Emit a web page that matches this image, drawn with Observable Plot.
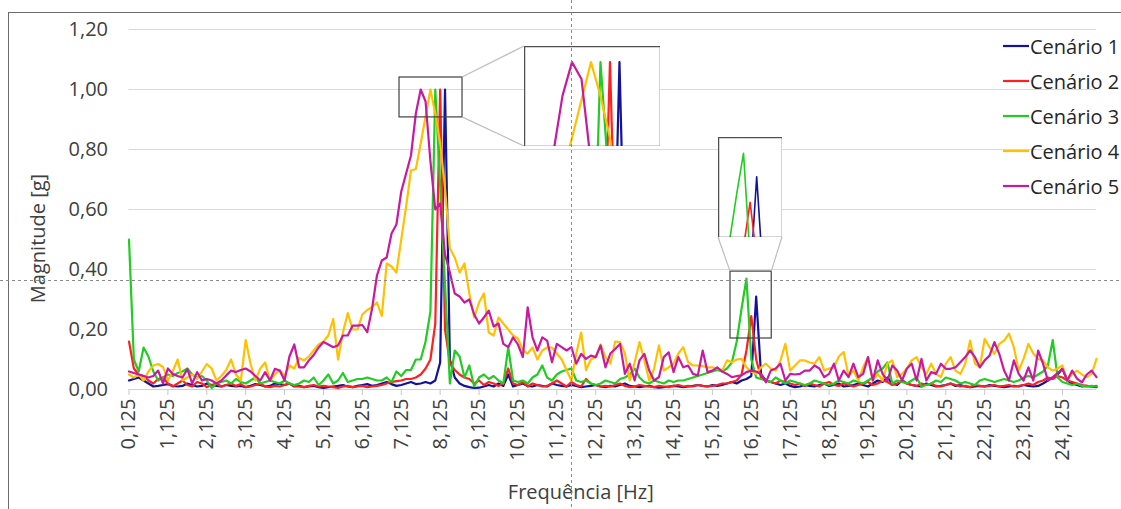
<!DOCTYPE html>
<html><head><meta charset="utf-8">
<script src="https://cdn.jsdelivr.net/npm/d3@7"></script>
<script src="https://cdn.jsdelivr.net/npm/@observablehq/plot@0.6"></script>
<style>
body{margin:0;background:#fff;}
#wrap{position:relative;width:1121px;height:509px;overflow:hidden;font-family:"Open Sans",sans-serif;background:#fff;}
#wrap > *{position:absolute;}
.legend{left:1003px;top:0;color:#262626;font-size:20px;}
.legend .row{position:absolute;left:0;display:flex;align-items:center;white-space:nowrap;height:30px;}
</style></head><body><div id="wrap"></div>
<script>
// ---------- data ----------
const seriesNames = ["Cenário 1", "Cenário 2", "Cenário 3", "Cenário 4", "Cenário 5"];
const seriesColors = ["#12129c", "#ff2020", "#22cc22", "#ffc000", "#c81aa0"];
const xTicks = [0.125,1.125,2.125,3.125,4.125,5.125,6.125,7.125,8.125,9.125,10.125,11.125,12.125,13.125,14.125,15.125,16.125,17.125,18.125,19.125,20.125,21.125,22.125,23.125,24.125];
const yTicks = [0, 0.2, 0.4, 0.6, 0.8, 1.0, 1.2];

const s1 = [
0.03,0.035,0.04,0.03,0.02,0.01,0.012,0.015,0.018,0.012,
0.01,0.012,0.02,0.015,0.01,0.012,0.02,0.015,0.012,0.01,
0.015,0.012,0.01,0.012,0.008,0.012,0.018,0.015,0.01,0.012,
0.02,0.018,0.015,0.02,0.01,0.012,0.008,0.01,0.012,0.008,
0.005,0.008,0.01,0.012,0.015,0.01,0.008,0.012,0.015,0.018,
0.012,0.015,0.02,0.025,0.018,0.012,0.015,0.02,0.025,0.018,
0.02,0.025,0.02,0.03,0.09,1.0,0.1,0.04,0.02,0.012,
0.008,0.005,0.006,0.01,0.015,0.01,0.02,0.012,0.05,0.01,
0.015,0.02,0.012,0.01,0.015,0.012,0.01,0.02,0.015,0.012,
0.01,0.015,0.012,0.008,0.01,0.012,0.015,0.01,0.008,0.012,
0.01,0.015,0.02,0.012,0.01,0.008,0.01,0.012,0.008,0.006,
0.008,0.01,0.012,0.01,0.008,0.01,0.012,0.015,0.012,0.01,
0.015,0.012,0.015,0.02,0.025,0.02,0.03,0.035,0.045,0.31,
0.05,0.03,0.025,0.02,0.015,0.02,0.012,0.008,0.01,0.015,
0.012,0.01,0.015,0.02,0.012,0.015,0.02,0.01,0.012,0.015,
0.02,0.015,0.01,0.02,0.03,0.025,0.04,0.02,0.015,0.03,
0.02,0.015,0.012,0.01,0.02,0.015,0.01,0.012,0.015,0.02,
0.012,0.015,0.01,0.008,0.01,0.012,0.01,0.015,0.012,0.01,
0.008,0.01,0.012,0.01,0.015,0.012,0.01,0.012,0.02,0.03,
0.04,0.05,0.07,0.03,0.02,0.015,0.01,0.012,0.01,0.008];

const s2 = [
0.16,0.07,0.05,0.045,0.03,0.02,0.035,0.04,0.02,0.01,
0.02,0.03,0.015,0.01,0.025,0.02,0.008,0.015,0.02,0.01,
0.015,0.02,0.012,0.018,0.008,0.01,0.015,0.02,0.01,0.008,
0.012,0.01,0.015,0.02,0.012,0.01,0.008,0.012,0.015,0.01,
0.012,0.01,0.008,0.005,0.01,0.012,0.008,0.01,0.012,0.008,
0.01,0.012,0.015,0.02,0.025,0.028,0.03,0.035,0.035,0.04,
0.05,0.07,0.1,0.22,1.0,0.2,0.09,0.065,0.05,0.04,
0.035,0.02,0.03,0.015,0.025,0.02,0.012,0.02,0.07,0.02,
0.015,0.025,0.01,0.02,0.015,0.01,0.012,0.02,0.03,0.02,
0.01,0.025,0.015,0.01,0.035,0.02,0.015,0.01,0.012,0.01,
0.015,0.02,0.012,0.008,0.01,0.015,0.012,0.01,0.008,0.012,
0.01,0.008,0.012,0.015,0.01,0.012,0.01,0.015,0.012,0.01,
0.012,0.015,0.02,0.02,0.025,0.03,0.05,0.13,0.245,0.1,
0.04,0.03,0.025,0.02,0.03,0.025,0.02,0.015,0.02,0.012,
0.02,0.015,0.01,0.02,0.025,0.015,0.012,0.02,0.015,0.01,
0.015,0.02,0.025,0.015,0.02,0.03,0.025,0.015,0.02,0.03,
0.02,0.015,0.012,0.02,0.015,0.02,0.012,0.01,0.015,0.02,
0.015,0.01,0.012,0.008,0.015,0.012,0.01,0.012,0.015,0.01,
0.012,0.015,0.01,0.012,0.015,0.02,0.015,0.025,0.03,0.04,
0.035,0.045,0.04,0.03,0.025,0.02,0.015,0.012,0.01,0.012];

const s3 = [
0.50,0.10,0.06,0.14,0.11,0.06,0.03,0.04,0.05,0.045,
0.055,0.06,0.07,0.05,0.04,0.045,0.03,0.005,0.02,0.025,
0.03,0.02,0.035,0.025,0.02,0.03,0.04,0.02,0.025,0.03,
0.025,0.02,0.03,0.02,0.015,0.02,0.03,0.025,0.04,0.015,
0.03,0.05,0.02,0.03,0.055,0.025,0.03,0.035,0.035,0.04,
0.035,0.03,0.03,0.04,0.025,0.06,0.045,0.065,0.065,0.1,
0.1,0.16,0.26,1.0,0.68,0.35,0.02,0.13,0.11,0.04,
0.08,0.01,0.04,0.05,0.035,0.045,0.03,0.02,0.14,0.03,
0.025,0.03,0.02,0.04,0.05,0.08,0.04,0.03,0.05,0.06,
0.065,0.07,0.03,0.025,0.03,0.02,0.015,0.02,0.03,0.025,
0.02,0.035,0.04,0.05,0.07,0.04,0.025,0.02,0.03,0.025,
0.02,0.03,0.025,0.03,0.03,0.035,0.04,0.045,0.05,0.055,
0.06,0.065,0.06,0.07,0.09,0.16,0.27,0.37,0.1,0.04,
0.035,0.03,0.025,0.04,0.03,0.02,0.03,0.025,0.02,0.015,
0.02,0.03,0.025,0.02,0.015,0.02,0.03,0.025,0.02,0.03,
0.025,0.02,0.03,0.04,0.06,0.07,0.09,0.02,0.03,0.025,
0.02,0.03,0.04,0.01,0.015,0.02,0.03,0.025,0.04,0.035,
0.03,0.02,0.025,0.02,0.015,0.03,0.035,0.03,0.025,0.03,
0.035,0.03,0.025,0.03,0.04,0.045,0.04,0.05,0.06,0.08,
0.165,0.04,0.025,0.02,0.015,0.02,0.012,0.01,0.012,0.01];

const s4 = [
0.05,0.04,0.05,0.03,0.06,0.08,0.085,0.075,0.03,0.06,
0.10,0.03,0.04,0.05,0.035,0.06,0.085,0.07,0.03,0.045,
0.065,0.10,0.05,0.03,0.165,0.085,0.03,0.07,0.09,0.03,
0.05,0.065,0.045,0.08,0.07,0.105,0.097,0.11,0.13,0.15,
0.16,0.18,0.235,0.10,0.19,0.255,0.2,0.2,0.25,0.265,
0.275,0.29,0.245,0.42,0.41,0.39,0.50,0.61,0.73,0.735,
0.82,0.91,1.0,0.92,0.82,0.67,0.47,0.44,0.39,0.42,
0.32,0.24,0.29,0.32,0.19,0.18,0.24,0.22,0.20,0.18,
0.17,0.13,0.12,0.14,0.10,0.13,0.14,0.14,0.12,0.10,
0.065,0.03,0.12,0.19,0.065,0.1,0.108,0.15,0.108,0.086,
0.16,0.158,0.12,0.03,0.09,0.158,0.097,0.03,0.069,0.147,
0.063,0.074,0.086,0.12,0.141,0.091,0.08,0.08,0.078,0.074,
0.074,0.07,0.063,0.097,0.091,0.1,0.102,0.074,0.06,0.052,
0.074,0.086,0.07,0.063,0.097,0.152,0.063,0.08,0.097,0.097,
0.09,0.086,0.108,0.063,0.07,0.074,0.11,0.125,0.045,0.063,
0.03,0.074,0.108,0.03,0.052,0.03,0.086,0.097,0.041,0.052,
0.07,0.097,0.108,0.074,0.052,0.086,0.052,0.041,0.086,0.108,
0.063,0.052,0.086,0.163,0.086,0.074,0.169,0.141,0.119,0.152,
0.163,0.186,0.141,0.063,0.102,0.152,0.12,0.102,0.097,0.074,
0.063,0.07,0.08,0.03,0.052,0.063,0.05,0.041,0.052,0.102];

const s5 = [
0.06,0.055,0.05,0.045,0.04,0.045,0.063,0.02,0.07,0.052,
0.045,0.04,0.068,0.02,0.058,0.03,0.035,0.03,0.02,0.03,
0.047,0.063,0.058,0.065,0.07,0.06,0.045,0.03,0.058,0.03,
0.069,0.063,0.03,0.11,0.15,0.074,0.074,0.097,0.115,0.14,
0.158,0.15,0.141,0.147,0.18,0.18,0.213,0.213,0.215,0.191,
0.27,0.38,0.43,0.44,0.52,0.55,0.66,0.72,0.78,0.92,
1.0,0.96,0.76,0.60,0.62,0.45,0.39,0.32,0.31,0.29,
0.30,0.25,0.22,0.24,0.263,0.21,0.22,0.152,0.141,0.174,
0.15,0.108,0.274,0.174,0.13,0.174,0.163,0.091,0.152,0.141,
0.13,0.141,0.086,0.119,0.102,0.113,0.108,0.147,0.074,0.12,
0.135,0.152,0.052,0.086,0.03,0.097,0.119,0.063,0.03,0.041,
0.108,0.124,0.058,0.108,0.074,0.08,0.052,0.047,0.13,0.058,
0.063,0.074,0.06,0.052,0.041,0.045,0.047,0.058,0.063,0.06,
0.052,0.024,0.063,0.07,0.086,0.03,0.052,0.05,0.052,0.063,
0.063,0.08,0.07,0.041,0.052,0.086,0.03,0.063,0.041,0.086,
0.041,0.052,0.108,0.03,0.097,0.052,0.03,0.08,0.063,0.03,
0.07,0.086,0.03,0.102,0.03,0.058,0.052,0.086,0.069,0.069,
0.074,0.091,0.108,0.13,0.108,0.074,0.097,0.113,0.158,0.119,
0.063,0.03,0.097,0.052,0.03,0.074,0.03,0.13,0.086,0.03,
0.041,0.055,0.069,0.03,0.063,0.036,0.024,0.05,0.063,0.041];

// zoom windows (data coordinates): main-chart box and inset view
const zoomBoxes = [
  {x1: 7.08, x2: 8.70, y1: 0.907, y2: 1.04},
  {x1: 15.59, x2: 16.65, y1: 0.17, y2: 0.393}
];
const insetViews = [
  {x: [7.0, 8.79], y: [0.80, 1.037]},
  {x: [15.525, 16.74], y: [0.155, 0.41]}
];

// ---------- build table ----------
const allSeries = [s1, s2, s3, s4, s5];
const freqs = s1.map((_, i) => (i + 1) * 0.125);
const rows = [];
allSeries.forEach((vals, k) => vals.forEach((v, i) => rows.push({f: freqs[i], v, s: seriesNames[k]})));

const comma = (d, n) => d.toFixed(n).replace(".", ",");
const FONT = "'Open Sans', sans-serif";
const TXT = "#404040";

// ---------- layout ----------
const W = 1121, H = 509;
const inset1Pos = {left: 524, top: 46, w: 136, h: 100};
const inset2Pos = {left: 718, top: 137, w: 64, h: 100};

const wrap = document.getElementById("wrap");

// chart-area border
const border = document.createElement("div");
Object.assign(border.style, {left: "8px", top: "12px", width: "1300px", height: "700px", border: "1px solid #6b6b6b", boxSizing: "border-box"});
wrap.appendChild(border);

const main = Plot.plot({
  width: W, height: H,
  marginLeft: 128.5, marginRight: 25, marginTop: 29, marginBottom: 120,
  x: {domain: [0.125, 25]},
  y: {domain: [0, 1.2]},
  color: {domain: seriesNames, range: seriesColors},
  style: {fontFamily: FONT, fontSize: "20px", color: TXT, background: "transparent", overflow: "visible"},
  marks: [
    Plot.gridY(yTicks, {stroke: "#d9d9d9", strokeOpacity: 1, strokeWidth: 1}),
    Plot.ruleY([0], {stroke: "#d0d0d0", strokeWidth: 1.2}),
    Plot.axisY(yTicks, {tickSize: 0, tickPadding: 21, tickFormat: d => comma(d, 2), label: null, fill: TXT}),
    Plot.axisX(xTicks, {tickSize: 6, tickPadding: 3, tickRotate: -90, tickFormat: d => comma(d, 3), label: null, stroke: "#c8c8c8", fill: TXT}),
    Plot.lineY(rows, {x: "f", y: "v", z: "s", stroke: "s", strokeWidth: 2.2, strokeLinejoin: "round"}),
    Plot.rect(zoomBoxes, {x1: "x1", x2: "x2", y1: "y1", y2: "y2", fill: "none", stroke: "#404040", strokeWidth: 1.2}),
    Plot.text(["Frequência [Hz]"], {frameAnchor: "bottom", dy: 109, dx: -32, fill: TXT, fontSize: 20}),
    Plot.text(["Magnitude [g]"], {frameAnchor: "left", textAnchor: "middle", rotate: -90, dx: -90, dy: 29, fill: TXT, fontSize: 20})
  ]
});
main.style.left = "0px"; main.style.top = "0px";
wrap.appendChild(main);

function makeInset(view, pos, sw) {
  const p = Plot.plot({
    width: pos.w, height: pos.h, margin: 0,
    x: {domain: view.x, axis: null},
    y: {domain: view.y, axis: null},
    color: {domain: seriesNames, range: seriesColors},
    style: {background: "#fff", overflow: "hidden"},
    marks: [
      Plot.lineY(rows, {x: "f", y: "v", z: "s", stroke: "s", strokeWidth: sw, clip: true}),
      Plot.frame({stroke: "#505050", strokeWidth: 1.5})
    ]
  });
  p.style.left = pos.left + "px"; p.style.top = pos.top + "px";
  wrap.appendChild(p);
}
makeInset(insetViews[0], inset1Pos, 2.2);
makeInset(insetViews[1], inset2Pos, 1.6);

// connectors + crosshair overlay
const sx = main.scale("x"), sy = main.scale("y");
const b1 = zoomBoxes[0], b2 = zoomBoxes[1];
const connectors = [
  [sx.apply(b1.x2), sy.apply(b1.y2), inset1Pos.left, inset1Pos.top],
  [sx.apply(b1.x2), sy.apply(b1.y1), inset1Pos.left, inset1Pos.top + inset1Pos.h],
  [sx.apply(b2.x1), sy.apply(b2.y2), inset2Pos.left, inset2Pos.top + inset2Pos.h],
  [sx.apply(b2.x2), sy.apply(b2.y2), inset2Pos.left + inset2Pos.w, inset2Pos.top + inset2Pos.h]
];
const ov = d3.create("svg").attr("width", W).attr("height", H).style("left", "0px").style("top", "0px").style("pointer-events", "none");
ov.selectAll("line.c").data(connectors).join("line").attr("class", "c")
  .attr("x1", d => d[0]).attr("y1", d => d[1]).attr("x2", d => d[2]).attr("y2", d => d[3])
  .attr("stroke", "#bdbdbd").attr("stroke-width", 1.2);
const cross = {x: 571, y: 280};
ov.append("line").attr("x1", cross.x + 0.5).attr("x2", cross.x + 0.5).attr("y1", 0).attr("y2", H)
  .attr("stroke", "#8a8a8a").attr("stroke-dasharray", "3,3");
ov.append("line").attr("x1", 0).attr("x2", W).attr("y1", cross.y + 0.5).attr("y2", cross.y + 0.5)
  .attr("stroke", "#8a8a8a").attr("stroke-dasharray", "3,3");
wrap.appendChild(ov.node());

// legend
const leg = document.createElement("div");
leg.className = "legend";
seriesNames.forEach((name, k) => {
  const r = document.createElement("div");
  r.className = "row";
  r.style.top = (31 + k * 35) + "px";
  r.innerHTML = `<svg width="26" height="4" style="margin-right:1px"><line x1="0" x2="26" y1="2" y2="2" stroke="${seriesColors[k]}" stroke-width="2.2"/></svg><span>${name}</span>`;
  leg.appendChild(r);
});
wrap.appendChild(leg);
</script></body></html>
